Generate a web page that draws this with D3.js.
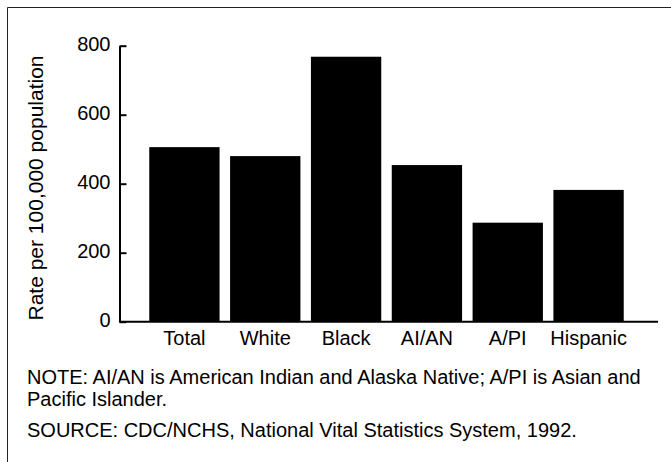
<!DOCTYPE html>
<html>
<head>
<meta charset="utf-8">
<script src="https://cdn.jsdelivr.net/npm/d3@7"></script>
<style>
  body { margin: 0; background: #fff; }
  svg { display: block; font-family: "Liberation Sans", Arial, sans-serif; }
</style>
</head>
<body>
<script>
var categories = ["Total", "White", "Black", "AI/AN", "A/PI", "Hispanic"];
var rates = [506, 480, 768, 454, 287, 382];
var yTicks = [0, 200, 400, 600, 800];
var yTitle = "Rate per 100,000 population";
var notes = [
  "NOTE: AI/AN is American Indian and Alaska Native; A/PI is Asian and",
  "Pacific Islander.",
  "SOURCE: CDC/NCHS, National Vital Statistics System, 1992."
];

var width = 671, height = 462;

var svg = d3.select("body")
    .append("svg")
    .attr("width", width)
    .attr("height", height);

// frame: only left and top edges show
svg.append("path")
    .attr("d", "M7.5," + height + "V7.5H" + width)
    .style("fill", "none")
    .style("stroke", "#222")
    .style("stroke-width", 1);

var x = d3.scaleBand()
    .domain(categories)
    .range([144, 629])
    .paddingInner(0.13)
    .paddingOuter(0.065);

var y = d3.scaleLinear()
    .domain([0, 800])
    .range([321.7, 45.7]);

var g = svg.append("g").attr("class", "chart");

g.selectAll("rect")
    .data(rates)
    .enter().append("rect")
    .attr("x", function(d, i) { return x(categories[i]); })
    .attr("y", function(d) { return y(d); })
    .attr("width", x.bandwidth())
    .attr("height", function(d) { return y(0) - y(d); })
    .style("fill", "#000");

// y axis, ticks point inward
var yAxis = g.append("g")
    .attr("transform", "translate(119.5,0)")
    .call(d3.axisRight(y).tickValues(yTicks).tickSize(7).tickSizeOuter(0));
yAxis.select(".domain").style("stroke-width", 2);
yAxis.selectAll(".tick line").style("stroke-width", 2);
yAxis.selectAll(".tick text")
    .attr("x", -9)
    .attr("dy", "0.22em")
    .style("text-anchor", "end")
    .style("font-size", "20px")
    .style("font-family", "Liberation Sans, Arial, sans-serif");

// x axis baseline
var xAxis = g.append("g")
    .attr("transform", "translate(0," + y(0) + ")")
    .call(d3.axisBottom(x).tickSize(0).tickPadding(9));
xAxis.select(".domain")
    .attr("d", "M119.5,0H658")
    .style("stroke-width", 2);
xAxis.selectAll(".tick text")
    .attr("dy", "0.71em")
    .style("font-size", "20px")
    .style("font-family", "Liberation Sans, Arial, sans-serif");

svg.append("text")
    .attr("transform", "translate(43," + 188 + ") rotate(-90)")
    .style("text-anchor", "middle")
    .style("font-size", "21px")
    .text(yTitle);

svg.selectAll("text.note")
    .data(notes)
    .enter().append("text")
    .attr("class", "note")
    .attr("x", 27)
    .attr("y", function(d, i) { return [384, 406, 437][i]; })
    .style("font-size", "20px")
    .text(function(d) { return d; });
</script>
</body>
</html>
